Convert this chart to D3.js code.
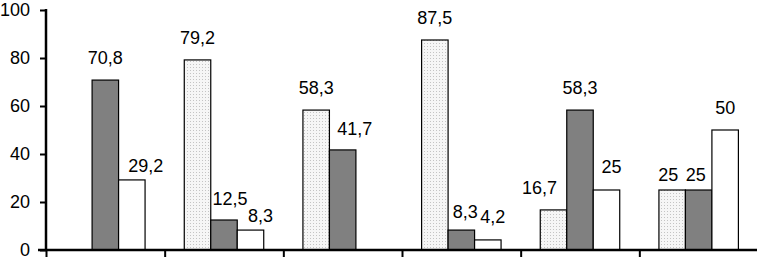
<!DOCTYPE html>
<html>
<head>
<meta charset="utf-8">
<script src="https://cdn.jsdelivr.net/npm/d3@7"></script>
<style>
  html, body { margin: 0; padding: 0; background: #fff; }
  svg { display: block; font-family: "Liberation Sans", Arial, sans-serif; }
</style>
</head>
<body>
<div id="chart"></div>
<script>
// data
const groups = ["1", "2", "3", "4", "5", "6"];
const seriesNames = ["dotted", "dark", "white"];
const dottedValues = [0, 79.2, 58.3, 87.5, 16.7, 25];
const darkValues = [70.8, 12.5, 41.7, 8.3, 58.3, 25];
const whiteValues = [29.2, 8.3, 0, 4.2, 25, 50];
const yTicks = [0, 20, 40, 60, 80, 100];

// label nudges (dx, gap above bar) where the original labels were moved by hand
const labelNudge = {
  "1-white": [14, 8],
  "2-dark": [6, 15],
  "2-white": [10, 8],
  "3-dark": [12, 15],
  "4-dark": [4, 12],
  "4-white": [5, 17],
  "5-dotted": [-14, 16],
  "5-white": [5, 17],
  "6-dotted": [-4, 9],
  "6-dark": [-3, 9]
};

const width = 757;
const height = 259;
const margin = { left: 46, right: 758, top: 10, bottom: 250 };

const seriesValues = { dotted: dottedValues, dark: darkValues, white: whiteValues };
const rows = [];
groups.forEach((g, i) => {
  seriesNames.forEach(s => {
    rows.push({ group: g, series: s, value: seriesValues[s][i] });
  });
});

const svg = d3.select("#chart").append("svg")
  .attr("width", width)
  .attr("height", height);

const defs = svg.append("defs");
const pat = defs.append("pattern")
  .attr("id", "dots")
  .attr("width", 3)
  .attr("height", 3)
  .attr("patternUnits", "userSpaceOnUse");
pat.append("rect").attr("width", 3).attr("height", 3).attr("fill", "#f6f6f6");
pat.append("rect").attr("x", 1).attr("y", 1).attr("width", 1).attr("height", 1).attr("fill", "#c4c4c4");

const x0 = d3.scaleBand().domain(groups).range([margin.left, margin.right]).paddingInner(0).paddingOuter(0);
const x1 = d3.scaleBand().domain(seriesNames).range([0, x0.bandwidth()])
  .paddingInner(0).paddingOuter(0.74);
const y = d3.scaleLinear().domain([0, 100]).range([margin.bottom, margin.top]);

const fills = { dotted: "url(#dots)", dark: "#808080", white: "#ffffff" };

// bars
svg.append("g").selectAll("rect")
  .data(rows.filter(d => d.value > 0))
  .join("rect")
  .attr("x", d => x0(d.group) + x1(d.series))
  .attr("y", d => y(d.value))
  .attr("width", x1.bandwidth())
  .attr("height", d => y(0) - y(d.value))
  .attr("fill", d => fills[d.series])
  .attr("stroke", "#000")
  .attr("stroke-width", 1.2);

// value labels
svg.append("g").selectAll("text")
  .data(rows.filter(d => d.value > 0))
  .join("text")
  .attr("x", d => {
    const n = labelNudge[d.group + "-" + d.series];
    return x0(d.group) + x1(d.series) + x1.bandwidth() / 2 + (n ? n[0] : 0);
  })
  .attr("y", d => {
    const n = labelNudge[d.group + "-" + d.series];
    return y(d.value) - (n ? n[1] : 16);
  })
  .attr("text-anchor", "middle")
  .attr("font-size", 18)
  .attr("fill", "#000")
  .text(d => String(d.value).replace(".", ","));

// y axis
const yAxis = d3.axisLeft(y).tickValues(yTicks).tickSize(6).tickPadding(10);
const gy = svg.append("g")
  .attr("transform", `translate(${margin.left},0)`)
  .call(yAxis);
gy.select(".domain").attr("stroke-width", 2.5).attr("d", `M0,${margin.top - 1}V${margin.bottom}`);
gy.selectAll(".tick line").attr("stroke-width", 2);
gy.selectAll(".tick text").attr("font-size", 18).attr("font-family", "Liberation Sans, Arial, sans-serif").attr("fill", "#000");

// x axis with ticks at group boundaries
const xb = d3.scaleLinear().domain([0, groups.length]).range([margin.left, margin.right]);
const xAxis = d3.axisBottom(xb).ticks(groups.length).tickSize(7).tickFormat("");
const gx = svg.append("g")
  .attr("transform", `translate(0,${margin.bottom})`)
  .call(xAxis);
gx.select(".domain").attr("stroke-width", 2.5).attr("d", `M${margin.left - 8},0H${margin.right}`);
gx.selectAll(".tick line").attr("stroke-width", 2);
</script>
</body>
</html>
